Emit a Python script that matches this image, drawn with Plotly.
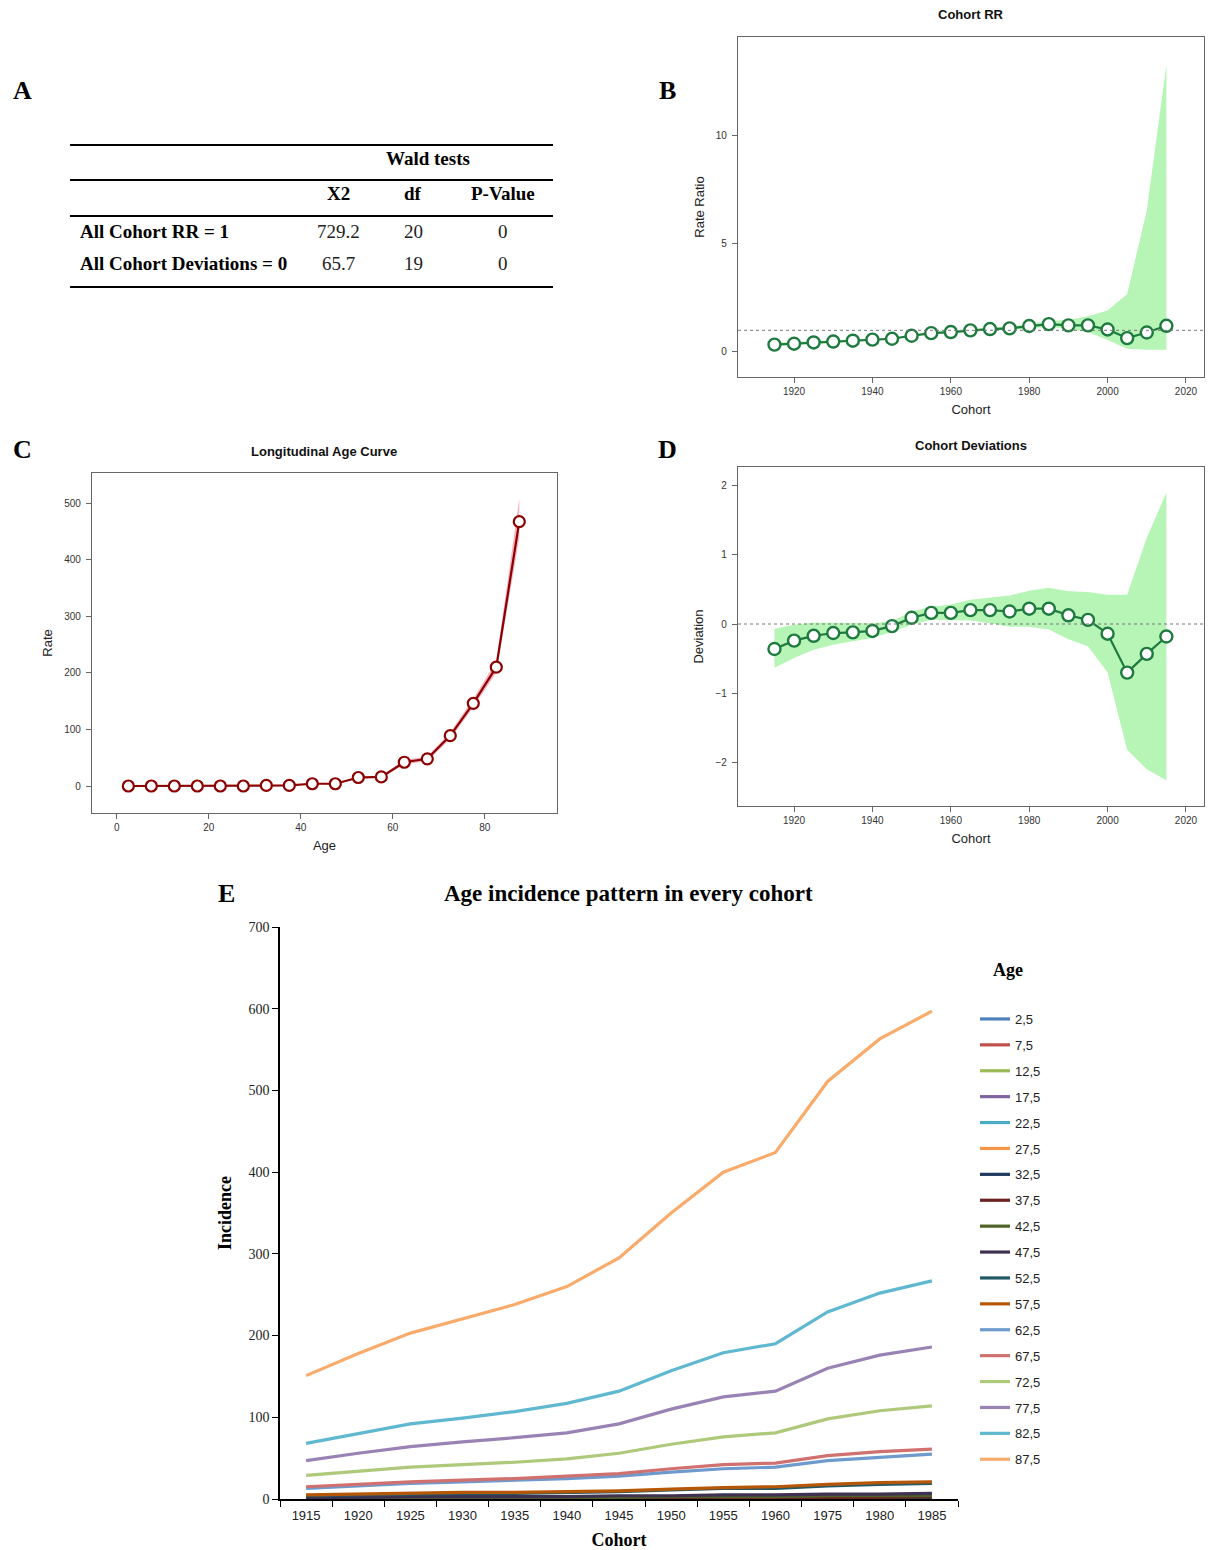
import plotly.graph_objects as go

W, H = 1214, 1550

# ---------------- data ----------------
# Panel A: Wald tests table
table_rows = ["All Cohort RR = 1", "All Cohort Deviations = 0"]
table_x2 = ["729.2", "65.7"]
table_df = ["20", "19"]
table_p = ["0", "0"]

# Panel B: Cohort RR
cohorts = [1915, 1920, 1925, 1930, 1935, 1940, 1945, 1950, 1955, 1960, 1965,
           1970, 1975, 1980, 1985, 1990, 1995, 2000, 2005, 2010, 2015]
rr = [0.34, 0.38, 0.44, 0.48, 0.52, 0.57, 0.61, 0.75, 0.87, 0.92, 1.00,
      1.06, 1.09, 1.20, 1.29, 1.23, 1.23, 1.04, 0.64, 0.90, 1.21]
rr_low = [0.27, 0.32, 0.38, 0.43, 0.47, 0.52, 0.56, 0.70, 0.81, 0.86, 0.94,
          0.99, 1.01, 1.10, 1.17, 1.06, 0.92, 0.55, 0.15, 0.10, 0.10]
rr_high = [0.42, 0.45, 0.51, 0.54, 0.58, 0.63, 0.67, 0.81, 0.93, 0.98, 1.06,
           1.13, 1.17, 1.31, 1.43, 1.48, 1.65, 1.92, 2.68, 6.55, 13.3]

# Panel C: Longitudinal age curve
ages = [2.5, 7.5, 12.5, 17.5, 22.5, 27.5, 32.5, 37.5, 42.5, 47.5, 52.5,
        57.5, 62.5, 67.5, 72.5, 77.5, 82.5, 87.5]
rate = [0, 0, 0, 0, 0, 0, 1, 1, 4, 4, 15, 16, 42, 48, 89, 146, 210, 467]
rate_low = [0, 0, 0, 0, 0, 0, 0, 0, 3, 3, 13, 14, 38, 44, 83, 139, 200, 438]
rate_high = [1, 1, 1, 1, 1, 1, 2, 2, 5, 5, 17, 18, 46, 52, 95, 154, 221, 508]

# Panel D: Cohort deviations
dev = [-0.36, -0.24, -0.17, -0.13, -0.12, -0.10, -0.03, 0.09, 0.16, 0.16, 0.20,
       0.20, 0.18, 0.22, 0.22, 0.125, 0.06, -0.14, -0.70, -0.43, -0.18]
dev_low = [-0.63, -0.49, -0.37, -0.30, -0.25, -0.20, -0.11, -0.01, 0.06, 0.06, 0.05,
           0.01, -0.04, -0.04, -0.08, -0.22, -0.32, -0.70, -1.81, -2.09, -2.25]
dev_high = [-0.07, -0.01, 0.02, 0.02, 0.01, 0.01, 0.04, 0.18, 0.25, 0.28, 0.35,
            0.38, 0.41, 0.48, 0.52, 0.47, 0.46, 0.42, 0.42, 1.24, 1.89]

# Panel E: age incidence by cohort
e_cohorts = ["1915", "1920", "1925", "1930", "1935", "1940", "1945",
             "1950", "1955", "1960", "1975", "1980", "1985"]
e_ages = ["2,5", "7,5", "12,5", "17,5", "22,5", "27,5", "32,5", "37,5", "42,5",
          "47,5", "52,5", "57,5", "62,5", "67,5", "72,5", "77,5", "82,5", "87,5"]
e_values = [
    [0.05, 0.05, 0.05, 0.05, 0.05, 0.05, 0.05, 0.05, 0.05, 0.05, 0.05, 0.05, 0.05],
    [0.05, 0.05, 0.05, 0.05, 0.05, 0.05, 0.05, 0.05, 0.05, 0.05, 0.05, 0.05, 0.05],
    [0.1, 0.1, 0.1, 0.1, 0.1, 0.1, 0.1, 0.1, 0.1, 0.1, 0.1, 0.1, 0.1],
    [0.1, 0.1, 0.1, 0.1, 0.1, 0.1, 0.1, 0.1, 0.1, 0.1, 0.1, 0.1, 0.1],
    [0.2, 0.2, 0.2, 0.2, 0.2, 0.2, 0.2, 0.2, 0.2, 0.2, 0.2, 0.2, 0.2],
    [0.3, 0.3, 0.3, 0.3, 0.3, 0.3, 0.3, 0.3, 0.3, 0.3, 0.3, 0.3, 0.3],
    [0.5, 0.5, 0.6, 0.6, 0.6, 0.7, 0.7, 0.8, 0.9, 0.9, 1.1, 1.2, 1.3],
    [1, 1, 1, 1, 1, 1, 1, 2, 2, 2, 2, 2, 3],
    [1, 1, 2, 2, 2, 2, 2, 3, 3, 3, 4, 4, 4],
    [2, 2, 3, 3, 3, 3, 4, 4, 5, 5, 6, 6, 7],
    [4, 5, 6, 7, 7, 8, 9, 11, 13, 13, 16, 18, 19],
    [5, 6, 7, 8, 8, 9, 10, 12, 14, 15, 18, 20, 21],
    [13, 16, 19, 21, 23, 25, 28, 33, 37, 39, 47, 51, 55],
    [15, 18, 21, 23, 25, 28, 31, 37, 42, 44, 53, 58, 61],
    [29, 34, 39, 42, 45, 49, 56, 67, 76, 81, 98, 108, 114],
    [47, 56, 64, 70, 75, 81, 92, 110, 125, 132, 160, 176, 186],
    [68, 80, 92, 99, 107, 117, 132, 157, 179, 190, 229, 252, 267],
    [151, 178, 203, 221, 238, 260, 295, 350, 400, 424, 511, 563, 597],
]
e_colors = ["#4F81BD", "#C0504D", "#9BBB59", "#8064A2", "#4BACC6", "#F79646",
            "#1F3A60", "#6B2222", "#4F6228", "#3F3151", "#215967", "#B65708",
            "#6F9ACE", "#D07170", "#AFC97A", "#9983B5", "#5FB8CF", "#F9AB6B"]

# ---------------- helpers ----------------
def dx(a, b):
    return [a / W, b / W]

def dy(top, bottom):
    return [1 - bottom / H, 1 - top / H]

def px(x):
    return x / W

def py(y):
    return 1 - y / H

SANS = "Liberation Sans, Arial, sans-serif"
SERIF = "Liberation Serif, Times New Roman, serif"
GREEN = "#1F7A3F"
BAND_G = "#B6F5B6"
RED = "#8B0000"
BAND_R = "#F5B3C0"

fig = go.Figure()

# ---- Panel B ----
fig.add_trace(go.Scatter(x=cohorts, y=rr_low, mode="lines", line=dict(width=0),
                         showlegend=False, xaxis="x", yaxis="y", hoverinfo="skip"))
fig.add_trace(go.Scatter(x=cohorts, y=rr_high, mode="lines", line=dict(width=0),
                         fill="tonexty", fillcolor=BAND_G, showlegend=False,
                         xaxis="x", yaxis="y", hoverinfo="skip"))
fig.add_trace(go.Scatter(x=cohorts, y=rr, mode="lines+markers",
                         line=dict(color=GREEN, width=2.2),
                         marker=dict(size=12, color="white", line=dict(color=GREEN, width=2.4)),
                         showlegend=False, xaxis="x", yaxis="y"))

# ---- Panel C ----
fig.add_trace(go.Scatter(x=ages, y=rate_low, mode="lines", line=dict(width=0),
                         showlegend=False, xaxis="x2", yaxis="y2", hoverinfo="skip"))
fig.add_trace(go.Scatter(x=ages, y=rate_high, mode="lines", line=dict(width=0),
                         fill="tonexty", fillcolor=BAND_R, showlegend=False,
                         xaxis="x2", yaxis="y2", hoverinfo="skip"))
fig.add_trace(go.Scatter(x=ages, y=rate, mode="lines+markers",
                         line=dict(color=RED, width=2.2),
                         marker=dict(size=11, color="white", line=dict(color=RED, width=2.2)),
                         showlegend=False, xaxis="x2", yaxis="y2"))

# ---- Panel D ----
fig.add_trace(go.Scatter(x=cohorts, y=dev_low, mode="lines", line=dict(width=0),
                         showlegend=False, xaxis="x3", yaxis="y3", hoverinfo="skip"))
fig.add_trace(go.Scatter(x=cohorts, y=dev_high, mode="lines", line=dict(width=0),
                         fill="tonexty", fillcolor=BAND_G, showlegend=False,
                         xaxis="x3", yaxis="y3", hoverinfo="skip"))
fig.add_trace(go.Scatter(x=cohorts, y=dev, mode="lines+markers",
                         line=dict(color=GREEN, width=2.2),
                         marker=dict(size=12, color="white", line=dict(color=GREEN, width=2.4)),
                         showlegend=False, xaxis="x3", yaxis="y3"))

# ---- Panel E ----
for i, (name, vals, col) in enumerate(zip(e_ages, e_values, e_colors)):
    fig.add_trace(go.Scatter(x=e_cohorts, y=vals, mode="lines", name=name,
                             line=dict(color=col, width=3.2),
                             legendgroup="g%d" % i, xaxis="x4", yaxis="y4"))

# ---------------- axes ----------------
r_axis = dict(showline=True, mirror=True, linecolor="#666", linewidth=1.2,
              ticks="outside", ticklen=5, tickcolor="#666", showgrid=False,
              zeroline=False, automargin=False,
              tickfont=dict(family=SANS, size=10, color="#333"),
              title_font=dict(family=SANS, size=13, color="#222"))

fig.update_layout(
    xaxis=dict(r_axis, domain=dx(738, 1204), range=[1905.7, 2024.6],
               tickvals=[1920, 1940, 1960, 1980, 2000, 2020], anchor="y",
               title=dict(text="Cohort", standoff=8)),
    yaxis=dict(r_axis, domain=dy(37, 377), range=[-1.16, 14.58],
               tickvals=[0, 5, 10], anchor="x", ticklabelstandoff=3,
               title=dict(text="Rate Ratio", standoff=8)),
    xaxis2=dict(r_axis, domain=dx(92, 557), range=[-5.4, 95.7],
                tickvals=[0, 20, 40, 60, 80], anchor="y2",
                title=dict(text="Age", standoff=8)),
    yaxis2=dict(r_axis, domain=dy(473, 813), range=[-47.7, 553],
                tickvals=[0, 100, 200, 300, 400, 500], anchor="x2", ticklabelstandoff=3,
                title=dict(text="Rate", standoff=8)),
    xaxis3=dict(r_axis, domain=dx(738, 1204), range=[1905.7, 2024.6],
                tickvals=[1920, 1940, 1960, 1980, 2000, 2020], anchor="y3",
                title=dict(text="Cohort", standoff=8)),
    yaxis3=dict(r_axis, domain=dy(467, 806), range=[-2.62, 2.26],
                tickvals=[-2, -1, 0, 1, 2], anchor="x3", ticklabelstandoff=3,
                title=dict(text="Deviation", standoff=8)),
    xaxis4=dict(domain=dx(280, 958), type="category", range=[-0.5, 12.5],
                showline=True, linecolor="black", linewidth=1.5, ticks="outside",
                ticklen=6, tickcolor="black", tickson="boundaries", showgrid=False,
                zeroline=False, anchor="y4", automargin=False, ticklabelstandoff=4,
                tickfont=dict(family=SANS, size=13, color="#222"),
                title=dict(text="<b>Cohort</b>", standoff=12,
                           font=dict(family=SERIF, size=18, color="black"))),
    yaxis4=dict(domain=dy(927, 1499), range=[0, 700], dtick=100,
                showline=True, linecolor="black", linewidth=1.5, ticks="outside",
                ticklen=6, tickcolor="black", showgrid=False, zeroline=False,
                anchor="x4", automargin=False,
                tickfont=dict(family=SERIF, size=14, color="#222"),
                title=dict(text="<b>Incidence</b>", standoff=12,
                           font=dict(family=SERIF, size=18, color="black"))),
)

# reference lines (dotted)
fig.add_shape(type="line", xref="x domain", yref="y", x0=0, x1=1, y0=1, y1=1,
              line=dict(color="#777", width=1, dash="dot"))
fig.add_shape(type="line", xref="x3 domain", yref="y3", x0=0, x1=1, y0=0, y1=0,
              line=dict(color="#777", width=1, dash="dot"))

# ---------------- Panel A table ----------------
for yl in [145, 180, 216, 287]:
    fig.add_shape(type="line", xref="paper", yref="paper", x0=px(70), x1=px(553),
                  y0=py(yl), y1=py(yl), line=dict(color="black", width=2))

ann = []
def text(x, y, s, size, family=SERIF, bold=False, xanchor="center", color="black"):
    ann.append(dict(x=px(x), y=py(y), xref="paper", yref="paper",
                    text=("<b>%s</b>" % s) if bold else s, showarrow=False,
                    xanchor=xanchor, yanchor="middle",
                    font=dict(family=family, size=size, color=color)))

text(428, 158, "Wald tests", 19, bold=True)
text(338, 194, "X2", 19, bold=True)
text(413, 194, "df", 19, bold=True)
text(503, 194, "P-Value", 19, bold=True)
for i, (lab, x2, d, p) in enumerate(zip(table_rows, table_x2, table_df, table_p)):
    yy = 231 + i * 33
    text(78, yy, lab, 19, bold=True, xanchor="left")
    text(338, yy, x2, 19, color="#222")
    text(413, yy, d, 19, color="#222")
    text(503, yy, p, 19, color="#222")

# panel letters
for lab, x, y in [("A", 22, 90), ("B", 667, 90), ("C", 22, 450), ("D", 667, 450), ("E", 226, 893)]:
    text(x, y, lab, 26, bold=True)

# R panel titles
text(971, 15, "Cohort RR", 13, family=SANS, bold=True, color="#111")
text(324, 451, "Longitudinal Age Curve", 13, family=SANS, bold=True, color="#111")
text(971, 445, "Cohort Deviations", 13, family=SANS, bold=True, color="#111")

# Panel E title and legend title
text(628, 893, "Age incidence pattern in every cohort", 23, bold=True)
text(1008, 970, "Age", 18, bold=True)

fig.update_layout(
    annotations=ann,
    width=W, height=H, margin=dict(l=0, r=0, t=0, b=0, autoexpand=False),
    paper_bgcolor="white", plot_bgcolor="white",
    showlegend=True,
    legend=dict(x=px(975), y=py(1004), xanchor="left", yanchor="top",
                font=dict(family=SANS, size=13, color="#222"),
                tracegroupgap=6, bgcolor="rgba(0,0,0,0)", itemwidth=30),
)

fig.write_html("out.html", config={"displayModeBar": False},
               post_script="document.body.style.margin='0';document.body.style.padding='0';")
